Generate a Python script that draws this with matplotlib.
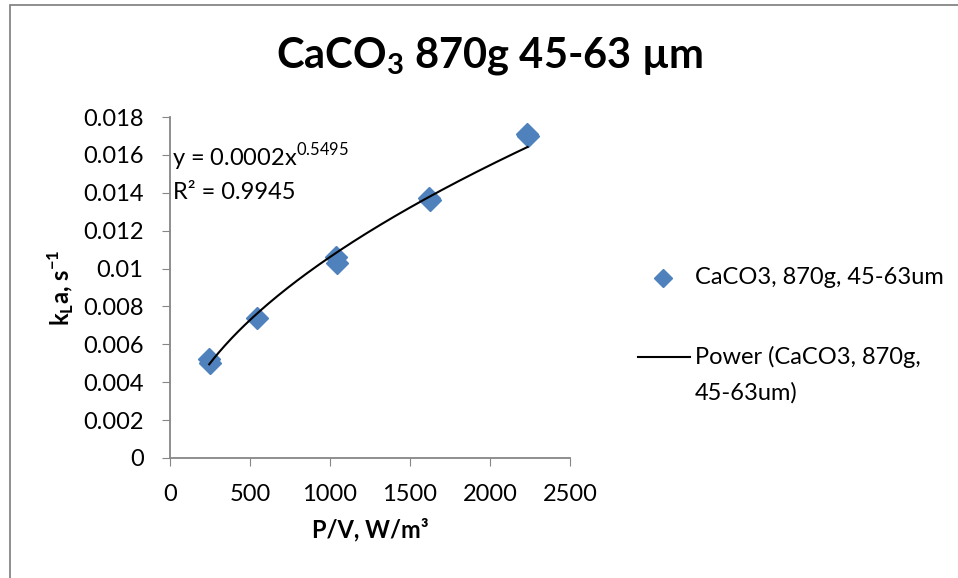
import numpy as np
import matplotlib
matplotlib.use("Agg")
import matplotlib.pyplot as plt
from matplotlib.patches import Rectangle
from matplotlib.lines import Line2D

plt.rcParams['font.family'] = ['Lato', 'DejaVu Sans']

# data
pv = [245, 250, 546, 1040, 1045, 1620, 1625, 2230, 2235]
kla = [0.0052, 0.0050, 0.00737, 0.01063, 0.01031, 0.01371, 0.01362, 0.0171, 0.0170]
x_ticks = [0, 500, 1000, 1500, 2000, 2500]
y_ticks = [0, 0.002, 0.004, 0.006, 0.008, 0.01, 0.012, 0.014, 0.016, 0.018]
y_labels = ['0', '0.002', '0.004', '0.006', '0.008', '0.01', '0.012', '0.014', '0.016', '0.018']
series_name = 'CaCO3, 870g, 45-63um'
trend_lines = ['Power (CaCO3, 870g,', '45-63um)']

blue = '#4F81BD'
grey = '#868686'

fig = plt.figure(figsize=(9.58, 5.78), dpi=100)
fig.patches.append(Rectangle((9.5 / 958, -0.1), 1.2, 1 - 5.5 / 578 + 0.1,
                             transform=fig.transFigure, fill=False,
                             edgecolor=grey, lw=1.3))

ax = fig.add_axes([170 / 958, 1 - 458 / 578, 400 / 958, 341 / 578])

# power trendline fitted in log space
b, log_a = np.polyfit(np.log(pv), np.log(kla), 1)
xs = np.linspace(min(pv), max(pv), 200)
ax.plot(xs, np.exp(log_a) * xs ** b, color='black', lw=1.5, zorder=3)
ax.plot(pv, kla, 'D', color=blue, ms=11, mec=blue, zorder=2)

ax.set_xlim(0, 2500)
ax.set_ylim(0, 0.018)
ax.set_xticks(x_ticks)
ax.set_yticks(y_ticks)
ax.set_yticklabels(y_labels)
ax.tick_params(labelsize=17, length=6, color=grey, direction='out', pad=13)
for s in ['top', 'right']:
    ax.spines[s].set_visible(False)
for s in ['left', 'bottom']:
    ax.spines[s].set_color(grey)
    ax.spines[s].set_linewidth(1.3)

ax.set_xlabel('P/V, W/m³', fontsize=17, fontweight='bold', labelpad=9)
ax.set_ylabel(r'k$_\mathregular{L}$a, s$^\mathregular{-1}$', fontsize=17,
              fontweight='bold', labelpad=5)

fig.text(490 / 958, 1 - 56 / 578, r'CaCO$_\mathregular{3}$ 870g 45-63 µm',
         ha='center', va='center', fontsize=30, fontweight='bold')

ax.text(0.005, 0.883, r'y = 0.0002x$^\mathregular{0.5495}$', transform=ax.transAxes,
        fontsize=17, va='center', ha='left')
ax.text(0.008, 0.78, 'R² = 0.9945', transform=ax.transAxes,
        fontsize=17, va='center', ha='left')

# legend drawn by hand, Excel style
def fx(px):
    return px / 958

def fy(py):
    return 1 - py / 578

fig.add_artist(Line2D([fx(663)], [fy(278)], marker='D', ms=9, color=blue, mec=blue))
fig.text(fx(695), fy(278), series_name, fontsize=17, va='center', ha='left')
fig.add_artist(Line2D([fx(638), fx(690)], [fy(357), fy(357)], color='black', lw=1.5))
fig.text(fx(695), fy(357), trend_lines[0], fontsize=17, va='center', ha='left')
fig.text(fx(695), fy(393), trend_lines[1], fontsize=17, va='center', ha='left')

fig.savefig('out.png', dpi=100)
